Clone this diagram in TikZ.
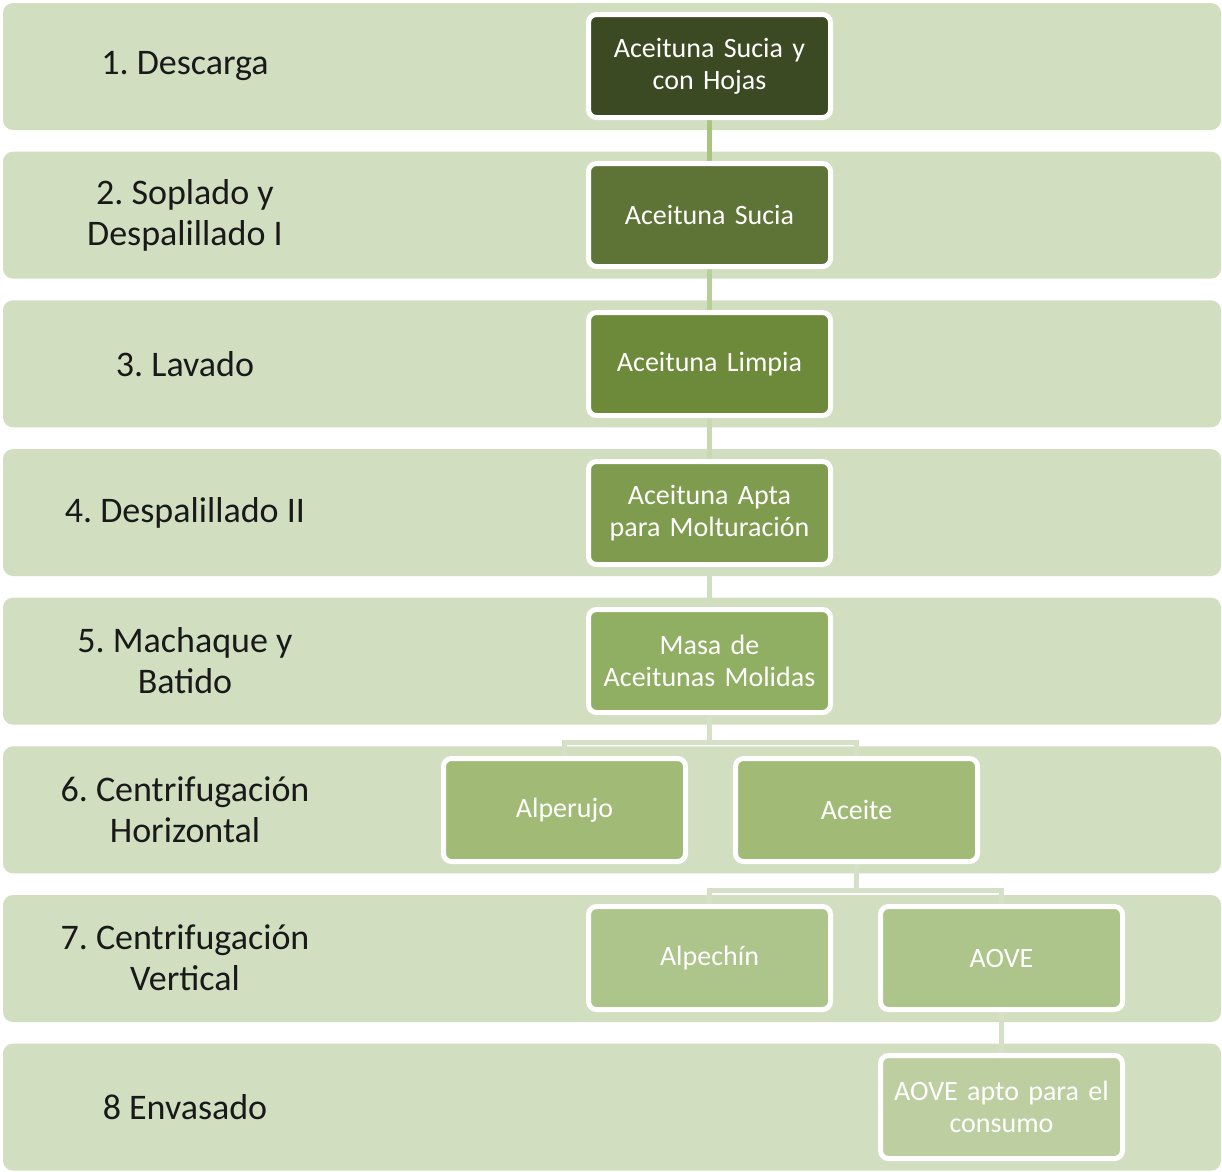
\documentclass[tikz,border=0pt]{standalone}
\usepackage{fontspec}
\setmainfont{Carlito}
\frenchspacing
\pgfdeclarelayer{bands}
\pgfdeclarelayer{links}
\pgfsetlayers{bands,links,main}
\definecolor{bandfill}{HTML}{D1DEC0}
\definecolor{lvA}{HTML}{3B4A22}
\definecolor{lvB}{HTML}{5E7436}
\definecolor{lvC}{HTML}{6D8A3A}
\definecolor{lvD}{HTML}{7F9C4E}
\definecolor{lvE}{HTML}{90AF62}
\definecolor{lvF}{HTML}{A1BB76}
\definecolor{lvG}{HTML}{ADC48A}
\definecolor{lvH}{HTML}{BDCEA0}
\definecolor{lkA}{HTML}{A9C47F}
\definecolor{lkB}{HTML}{B9CF9A}
\definecolor{lkC}{HTML}{C9D9B4}
\definecolor{lkD}{HTML}{D0DEC1}
\definecolor{lkE}{HTML}{D5E1C7}
\tikzset{
  band/.style={fill=bandfill, rounded corners=10pt},
  stepbox/.style={draw=white, line width=5pt, rounded corners=8pt,
    minimum width=242pt, minimum height=103pt, inner sep=0pt,
    text=white, align=center, text width=238pt,
    font=\fontsize{28}{32}\selectfont},
  steplabel/.style={align=center, text=black!90,
    font=\fontsize{36}{41}\selectfont},
  link/.style={line width=5pt}
}
\begin{document}
\begin{tikzpicture}[x=1pt, y=-1pt]
\useasboundingbox (0,0) rectangle (1222,1171);

% process stages (left column)
\foreach \t/\yc [count=\i] in {
    {1. Descarga}/66,
    {2. Soplado y\\Despalillado I}/215,
    {3. Lavado}/364,
    {4. Despalillado II}/513,
    {5. Machaque y\\Batido}/661,
    {6. Centrifugación\\Horizontal}/810,
    {7. Centrifugación\\Vertical}/958,
    {8 Envasado}/1107} {
  \node[steplabel] (lab\i) at (185,\yc) {\t};
}

% product boxes
\node[stepbox, fill=lvA] (b1)  at (709.5,66)  {Aceituna Sucia y\\con Hojas};
\node[stepbox, fill=lvB] (b2)  at (709.5,215) {Aceituna Sucia};
\node[stepbox, fill=lvC] (b3)  at (709.5,364) {Aceituna Limpia};
\node[stepbox, fill=lvD] (b4)  at (709.5,513) {Aceituna Apta\\para Molturación};
\node[stepbox, fill=lvE] (b5)  at (709.5,661) {Masa de\\Aceitunas Molidas};
\node[stepbox, fill=lvF] (b6a) at (564.5,810) {Alperujo};
\node[stepbox, fill=lvF] (b6b) at (856.5,810) {Aceite};
\node[stepbox, fill=lvG] (b7a) at (709.5,958) {Alpechín};
\node[stepbox, fill=lvG] (b7b) at (1001.5,958) {AOVE};
\node[stepbox, fill=lvH] (b8)  at (1001.5,1107) {AOVE apto para el\\consumo};

% background bands, one per stage
\begin{pgfonlayer}{bands}
\foreach \top in {3,151.6,300.3,449,597.6,746.3,895,1043.6} {
  \fill[band] (3,\top) rectangle (1221,\top+127);
}
\end{pgfonlayer}

% connectors
\begin{pgfonlayer}{links}
\draw[link, lkA] (b1.south) -- (b2.north);
\draw[link, lkB] (b2.south) -- (b3.north);
\draw[link, lkC] (b3.south) -- (b4.north);
\draw[link, lkD] (b4.south) -- (b5.north);
\draw[link, lkE] (b5.south) -- ++(0,27.5) -| (b6a.north);
\draw[link, lkE] (b5.south) -- ++(0,27.5) -| (b6b.north);
\draw[link, lkE] (b6b.south) -- ++(0,26.5) -| (b7a.north);
\draw[link, lkE] (b6b.south) -- ++(0,26.5) -| (b7b.north);
\draw[link, lkE] (b7b.south) -- (b8.north);
\end{pgfonlayer}
\end{tikzpicture}
\end{document}
